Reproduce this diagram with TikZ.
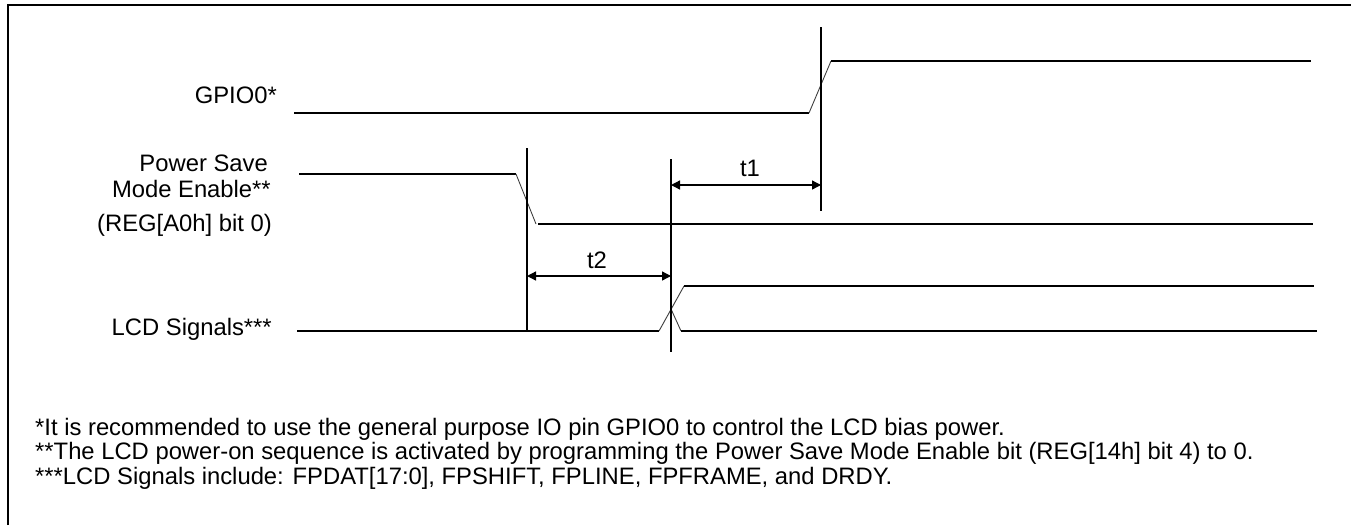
\documentclass[tikz,border=0pt]{standalone}
\usepackage{fontspec}
\setmainfont{Liberation Sans}
\usetikzlibrary{arrows.meta}
\begin{document}
\begin{tikzpicture}[x=1pt,y=-1pt,
  sig/.style={line width=1.4pt,black},
  edge/.style={line width=0.9pt,black!75},
  vline/.style={line width=1.3pt,black},
  dim/.style={line width=1.3pt,{Triangle[length=9pt,width=9pt]}-{Triangle[length=9pt,width=9pt]}},
  lab/.style={font=\fontsize{23.8}{28}\selectfont,inner sep=0pt},
  frameline/.style={line width=2.5pt}]
\useasboundingbox (0,0) rectangle (1351,525);
% frame
\draw[frameline] (8,525) -- (8,5) -- (1351,5);
% labels
\node[lab,anchor=base east] (gpio) at (277,103) {GPIO0*};
\node[lab,anchor=base east] (ps1) at (268,171) {Power Save};
\node[lab,anchor=base east] (ps2) at (271,197) {Mode Enable**};
\node[lab,anchor=base east] (ps3) at (272,231) {(REG[A0h] bit 0)};
\node[lab,anchor=base east] (lcd) at (272,335) {LCD Signals***};
% GPIO0
\coordinate (g0) at (294,113);
\coordinate (g1) at (809,113);
\coordinate (g2) at (831,61);
\coordinate (g3) at (1311,61);
\draw[sig] (g0) -- (g1);
\draw[edge] (g1) -- (g2);
\draw[sig] (g2) -- (g3);
% PSM
\coordinate (p0) at (299,174);
\coordinate (p1) at (516,174);
\coordinate (p2) at (536,224);
\coordinate (p3) at (538,224);
\coordinate (p4) at (1313,224);
\draw[sig] (p0) -- (p1);
\draw[edge] (p1) -- (p2);
\draw[sig] (p3) -- (p4);
% LCD
\coordinate (l0) at (297,331);
\coordinate (l1) at (659,331);
\coordinate (l2) at (684,286);
\coordinate (l3) at (1314,286);
\coordinate (lx) at (671,309);
\coordinate (l4) at (681,331);
\coordinate (l5) at (1317,331);
\draw[sig] (l0) -- (l1);
\draw[edge] (l1) -- (l2);
\draw[sig] (l2) -- (l3);
\draw[edge] (lx) -- (l4);
\draw[sig] (l4) -- (l5);
% vertical markers
\coordinate (va0) at (527,148);
\coordinate (va1) at (527,332);
\coordinate (vb0) at (671,159);
\coordinate (vb1) at (671,352);
\coordinate (vc0) at (821,27);
\coordinate (vc1) at (821,211);
\draw[vline] (va0) -- (va1);
\draw[vline] (vb0) -- (vb1);
\draw[vline] (vc0) -- (vc1);
% dimensions
\coordinate (t1a) at (671,185);
\coordinate (t1b) at (821,185);
\coordinate (t2a) at (527,276);
\coordinate (t2b) at (671,276);
\draw[dim] (t1a) -- (t1b);
\draw[dim] (t2a) -- (t2b);
\node[lab,anchor=base] (t1) at (750,176) {t1};
\node[lab,anchor=base] (t2) at (597,268) {t2};
% footnotes
\node[lab,anchor=base west] (n1) at (35,435) {*It is recommended to use the general purpose IO pin GPIO0 to control the LCD bias power.};
\node[lab,anchor=base west] (n2) at (35,459.5) {**The LCD power-on sequence is activated by programming the Power Save Mode Enable bit (REG[14h] bit 4) to 0.};
\node[lab,anchor=base west] (n3) at (35,484) {***LCD Signals include: FPDAT[17:0], FPSHIFT, FPLINE, FPFRAME, and DRDY.};
\end{tikzpicture}
\end{document}
